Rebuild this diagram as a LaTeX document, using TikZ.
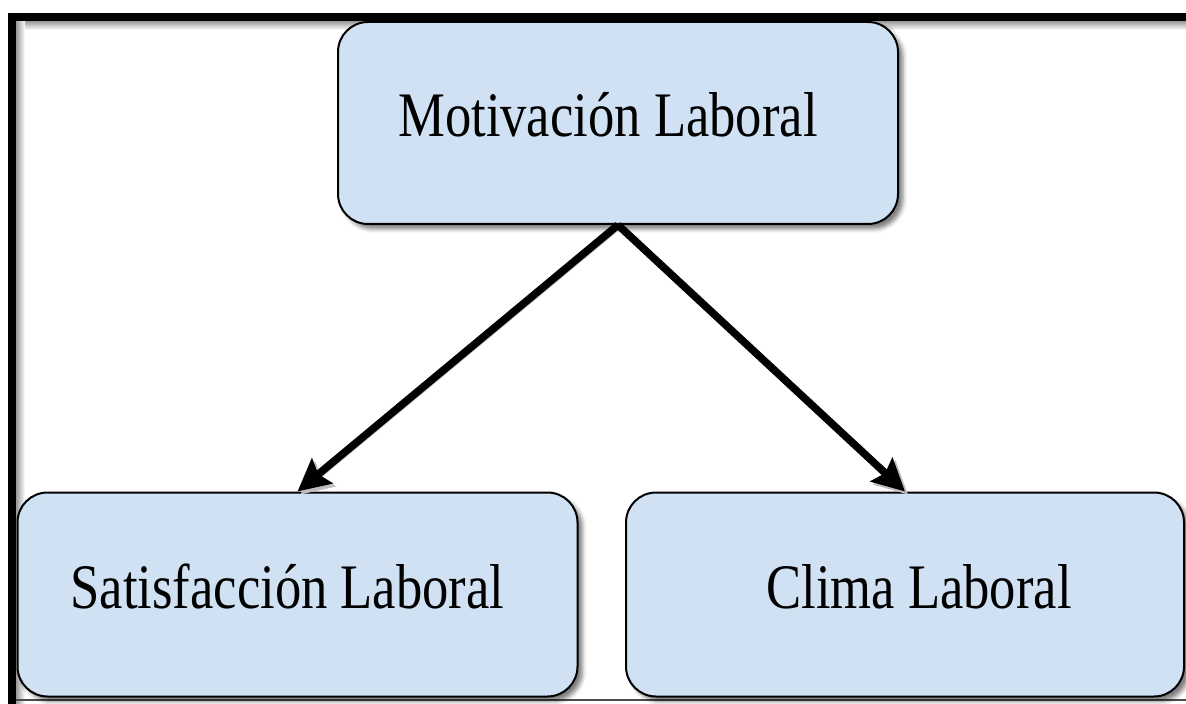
\documentclass[tikz,border=0pt]{standalone}
\usepackage{fontspec}
\newfontfamily\cajafont[FakeStretch=0.83]{Liberation Serif}
\usetikzlibrary{arrows.meta,shadows.blur}
\definecolor{celeste}{RGB}{207,225,242}

\begin{document}
\begin{tikzpicture}[>={Stealth[length=16pt,width=16pt,inset=2.5pt]},x=0.5pt,y=-0.5pt,
  caja/.style={draw=black,line width=1pt,fill=celeste,rounded corners=15pt,
    minimum width=280pt,minimum height=102pt,inner sep=0pt,
    text height=22pt,text depth=8pt,font=\cajafont\fontsize{31.7}{38}\selectfont,
    blur shadow={shadow xshift=2.5pt,shadow yshift=-2.5pt,shadow blur radius=2pt,shadow opacity=50}},
  flecha/.style={->,line width=3.8pt,
    preaction={draw=black!25,transform canvas={shift={(1.5pt,-1.5pt)}}}}]
  \useasboundingbox (0,0) rectangle (1186,704);
  % frame
  \shade[top color=black!40,bottom color=white] (16,21) rectangle (1186,30);
  \shade[left color=black!40,right color=white] (16,21) rectangle (25,704);
  \draw[line width=4pt] (12,13) -- (12,704);
  \draw[line width=4pt] (8,17) -- (1186,17);
  \draw[black!70,line width=1pt] (16,700) -- (1186,700);
  % boxes
  \node[caja,minimum height=101pt] (ML) at (618,123) {Motivación Laboral\hspace*{10pt}};
  \node[caja] (SL) at (297.5,594.5) {Satisfacción Laboral\hspace*{10pt}};
  \node[caja,minimum width=279pt] (CL) at (905,594.5) {\hspace*{14pt}Clima Laboral};
  % arrows
  \draw[flecha] (ML.south) -- (SL.north);
  \draw[flecha] (ML.south) -- (CL.north);
\end{tikzpicture}
\end{document}
